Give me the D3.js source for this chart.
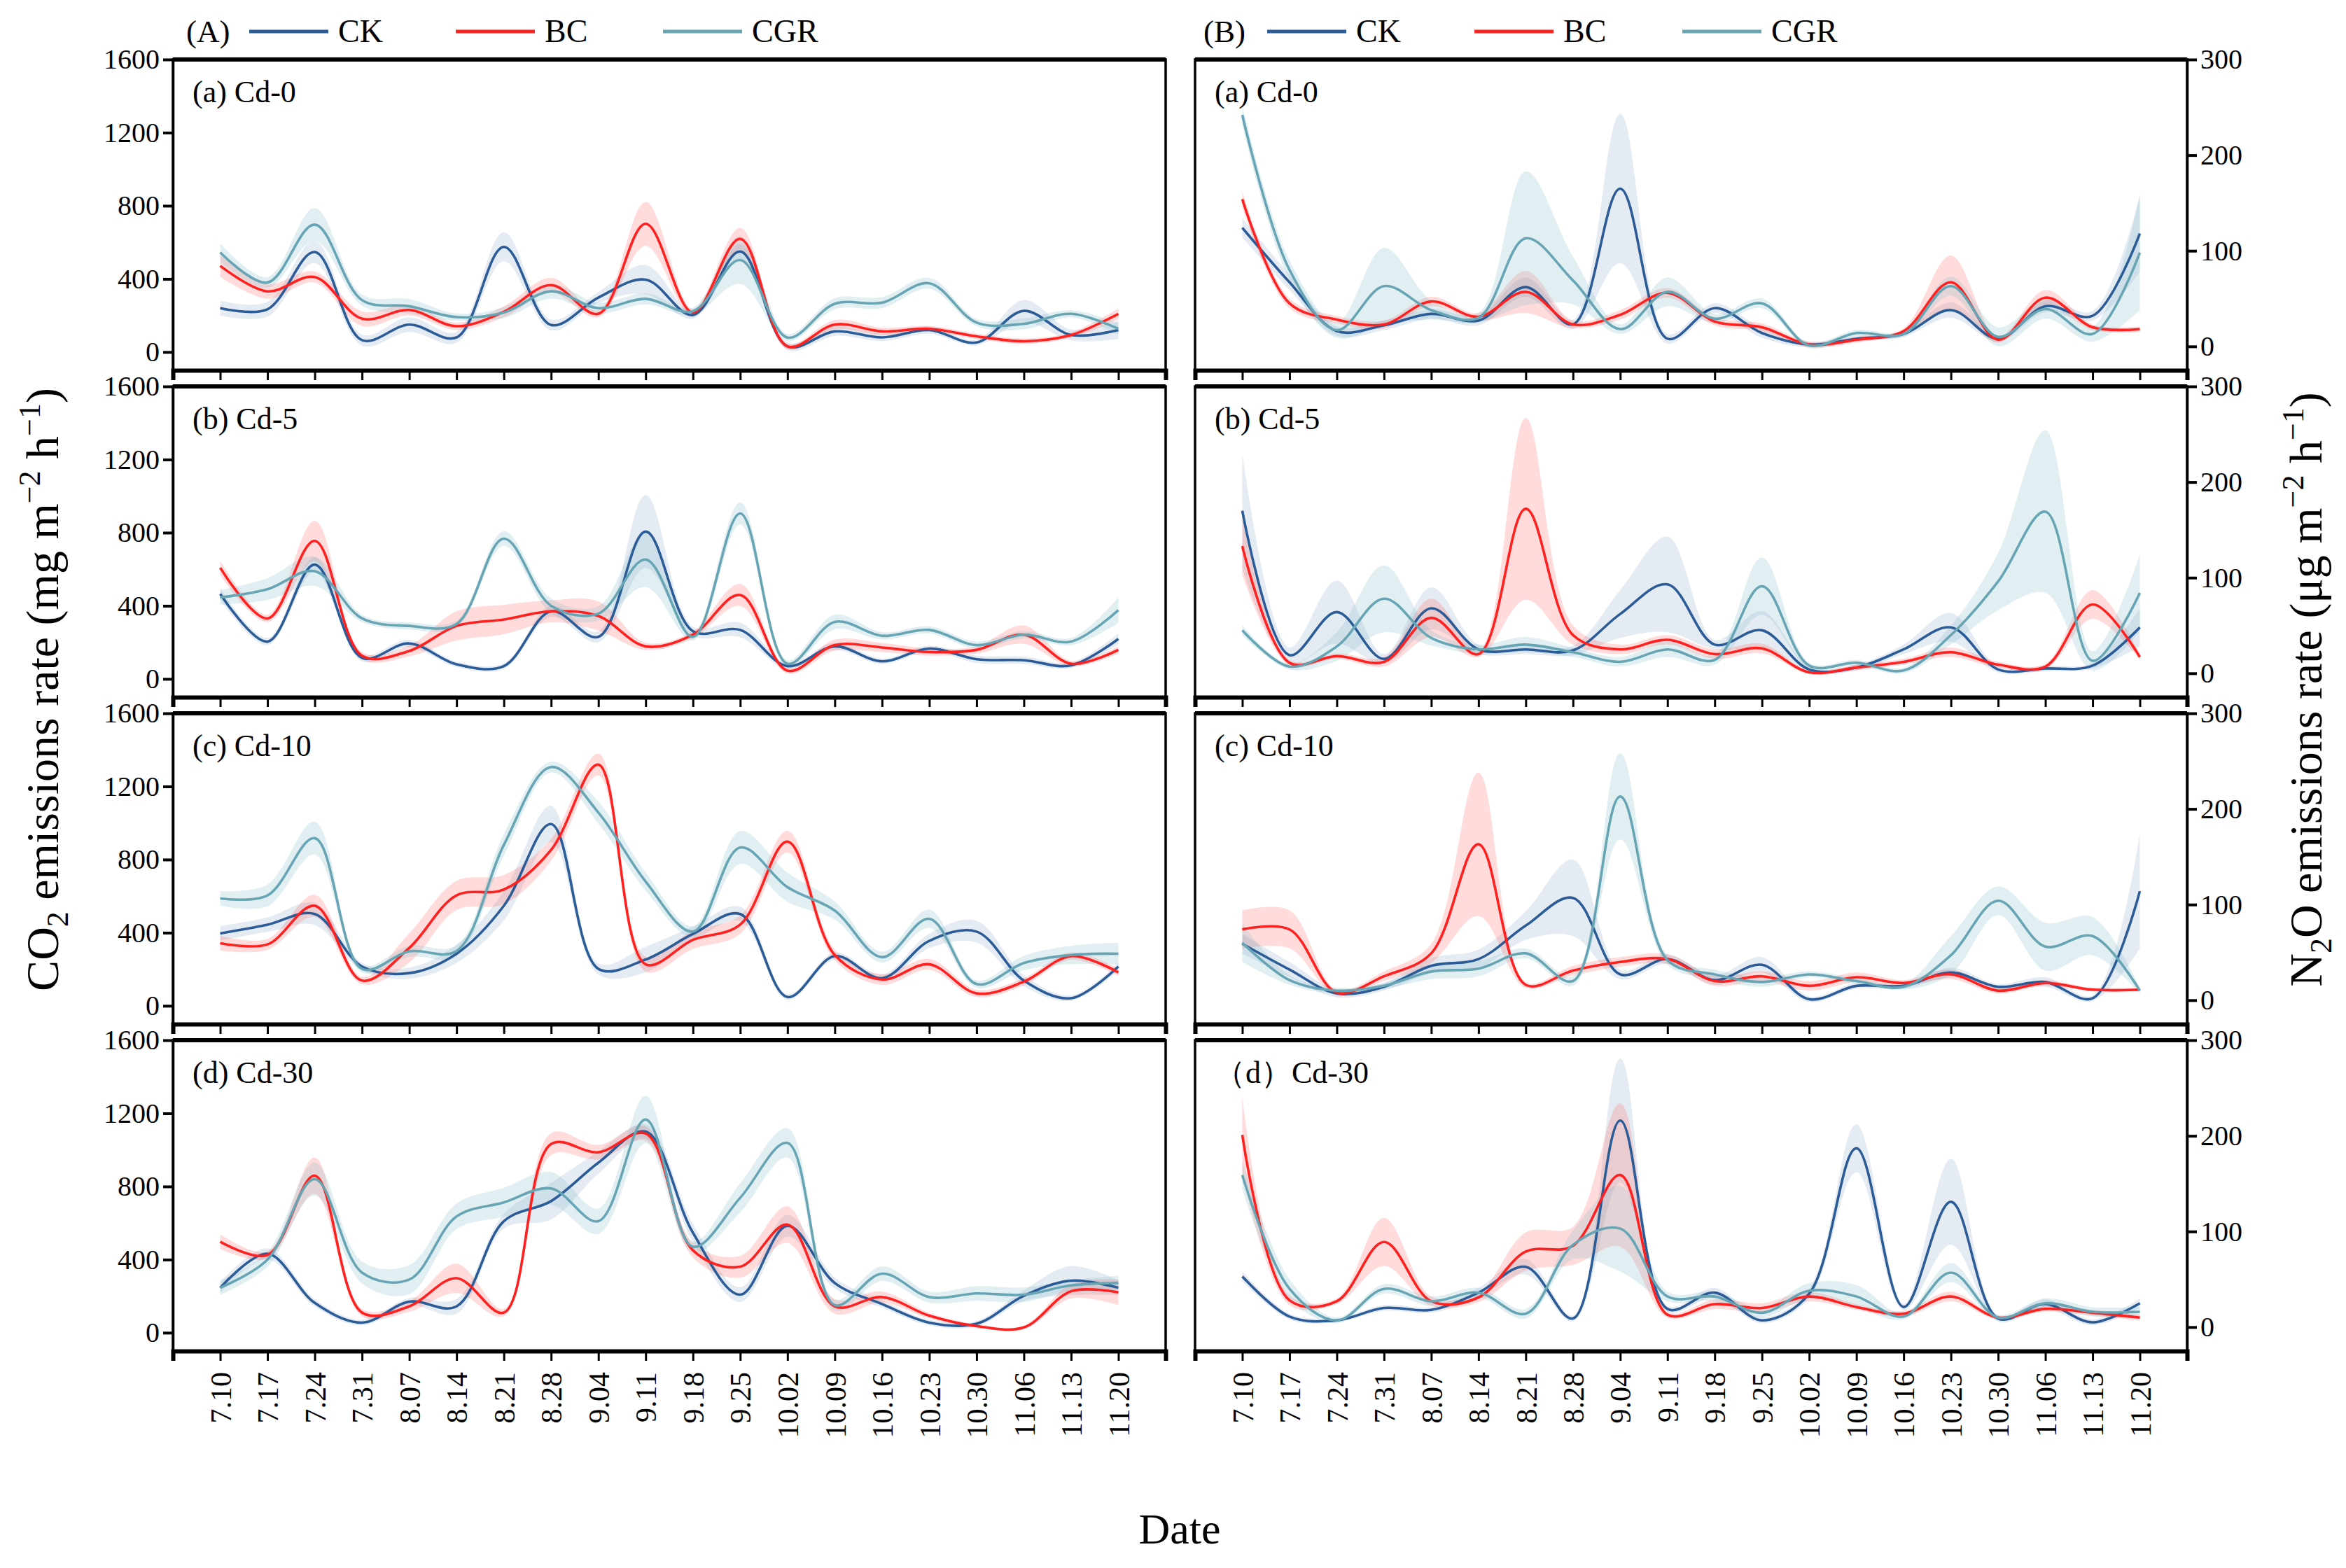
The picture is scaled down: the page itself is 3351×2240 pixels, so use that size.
<!DOCTYPE html>
<html>
<head>
<meta charset="utf-8">
<script src="https://cdn.jsdelivr.net/npm/d3@7"></script>
<style>
body { margin: 0; background: #fff; }
text { font-family: "Liberation Serif", "Times New Roman", serif; fill: #000; }
</style>
</head>
<body>
<svg id="chart" width="3351" height="2240"></svg>
<script>
// sampling dates (weekly)
var dates = ["7.10","7.17","7.24","7.31","8.07","8.14","8.21","8.28","9.04","9.11",
             "9.18","9.25","10.02","10.09","10.16","10.23","10.30","11.06","11.13","11.20"];
var seriesNames = ["CK", "BC", "CGR"];
var panelLabelsA = ["(a) Cd-0", "(b) Cd-5", "(c) Cd-10", "(d) Cd-30"];
var panelLabelsB = ["(a) Cd-0", "(b) Cd-5", "(c) Cd-10", "\uff08d\uff09Cd-30"];
var co2Ticks = [0, 400, 800, 1200, 1600];
var n2oTicks = [0, 100, 200, 300];

// CO2 emissions rate (mg m-2 h-1), mean and half band width
var co2Cd0CK   = [240,234,547,65,150,80,575,148,298,396,202,550,31,113,80,120,52,225,93,120];
var co2Cd0CKsd = [40,40,60,30,40,30,80,30,30,80,20,40,20,25,20,20,15,60,30,50];
var co2Cd0BC   = [471,332,410,182,230,141,220,366,209,701,216,619,31,150,113,127,86,59,93,209];
var co2Cd0BCsd = [60,40,30,40,30,20,30,40,20,120,20,60,15,25,20,15,15,15,15,30];
var co2Cd0CGR   = [544,380,697,284,250,191,216,332,240,291,223,503,79,264,270,376,161,154,209,127];
var co2Cd0CGRsd = [50,30,90,30,40,20,30,40,30,30,20,130,20,30,30,30,20,30,20,30];

var co2Cd5CK   = [465,204,625,115,194,80,70,370,230,806,261,268,70,178,96,166,108,102,74,219];
var co2Cd5CKsd = [30,20,40,20,20,15,15,30,30,200,25,40,15,20,15,15,20,20,15,30];
var co2Cd5BC   = [608,331,755,127,153,290,325,370,344,178,242,459,45,185,172,147,159,242,83,159];
var co2Cd5BCsd = [40,20,110,20,30,80,80,60,80,20,20,60,15,30,25,20,20,50,15,20];
var co2Cd5CGR   = [446,491,589,331,290,300,767,400,357,653,230,905,83,312,236,268,185,242,204,376];
var co2Cd5CGRsd = [40,60,80,20,20,20,40,40,40,150,20,60,20,40,20,20,20,20,20,70];

var co2Cd10CK   = [396,444,502,215,179,285,547,994,202,253,393,502,48,272,151,355,406,138,42,215];
var co2Cd10CKsd = [40,40,60,20,30,50,80,100,30,70,40,40,15,20,20,40,60,30,15,20];
var co2Cd10BC   = [342,336,547,138,317,604,636,853,1319,227,361,444,898,278,144,227,68,132,272,183];
var co2Cd10BCsd = [40,30,60,20,80,80,80,60,60,40,50,50,60,30,30,30,20,20,20,20];
var co2Cd10CGR   = [587,604,917,202,298,300,880,1306,1057,680,406,866,649,521,266,476,119,234,278,285];
var co2Cd10CGRsd = [40,60,90,20,30,30,60,30,60,50,30,90,80,50,30,50,20,40,50,60];

var co2Cd30CK   = [246,432,163,55,170,144,610,720,930,1100,547,208,585,272,157,55,49,202,285,246];
var co2Cd30CKsd = [30,30,20,15,20,40,40,100,60,40,50,40,60,30,20,15,15,30,80,40];
var co2Cd30BC   = [498,425,859,110,144,298,110,1032,987,1089,451,361,591,144,195,93,36,29,227,221];
var co2Cd30BCsd = [40,20,100,20,30,80,20,60,40,40,40,60,100,40,30,15,10,10,40,70];
var co2Cd30CGR   = [246,400,840,329,291,636,713,789,610,1166,470,738,1038,151,323,195,215,208,259,272];
var co2Cd30CGRsd = [40,40,90,60,80,70,80,90,70,130,30,80,80,30,40,30,40,40,30,40];

// N2O emissions rate (ug m-2 h-1)
var n2oCd0CK   = [124,67,16,22,34,27,62,23,165,8,40,14,2,8,13,38,8,42,32,118];
var n2oCd0CKsd = [10,8,5,5,5,5,10,5,78,5,5,5,3,3,3,8,3,6,5,40];
var n2oCd0BC   = [154,45,28,23,47,31,57,23,33,56,26,20,2,7,16,67,7,51,20,18];
var n2oCd0BCsd = [8,5,4,4,5,4,22,4,5,5,4,4,3,3,3,28,3,8,3,3];
var n2oCd0CGR   = [242,80,17,63,38,30,113,69,18,57,29,45,1,14,13,63,10,39,13,98];
var n2oCd0CGRsd = [10,10,8,40,10,5,70,25,5,15,5,5,3,3,3,10,10,10,8,60];

var n2oCd5CK   = [170,19,64,15,68,25,25,24,62,93,30,45,4,6,25,48,4,5,8,48];
var n2oCd5CKsd = [60,8,33,5,22,5,5,5,25,50,5,20,3,3,5,15,3,3,3,20];
var n2oCd5BC   = [133,11,18,12,58,20,172,40,25,35,20,26,1,6,12,22,9,7,72,17];
var n2oCd5BCsd = [30,3,3,5,20,3,95,10,5,5,5,5,2,3,3,5,3,3,15,3];
var n2oCd5CGR   = [45,7,28,78,37,25,30,22,12,25,14,91,8,11,3,40,96,169,13,84];
var n2oCd5CGRsd = [5,3,15,35,8,5,8,5,5,8,5,30,3,3,3,10,30,85,10,40];

var n2oCd10CK   = [59,32,7,14,36,43,78,107,27,43,21,37,1,15,15,29,14,19,2,114];
var n2oCd10CKsd = [10,8,4,4,8,10,15,40,5,5,5,8,3,3,3,5,3,5,3,60];
var n2oCd10BC   = [74,74,8,25,49,163,16,31,40,43,20,25,15,24,18,27,10,18,11,11];
var n2oCd10BCsd = [20,20,3,5,10,75,3,5,5,5,5,5,5,5,3,5,3,3,2,2];
var n2oCd10CGR   = [60,21,10,15,30,33,49,20,213,42,27,19,27,20,14,47,104,56,67,10];
var n2oCd10CGRsd = [20,5,3,3,8,8,5,5,45,5,5,5,3,3,3,20,15,25,20,3];

var n2oCd30CK   = [53,11,7,20,18,36,63,9,216,19,36,7,35,187,21,131,9,24,5,25];
var n2oCd30CKsd = [5,3,2,3,3,5,8,3,65,3,5,3,5,25,3,45,3,5,3,5];
var n2oCd30BC   = [201,28,27,89,27,31,79,85,159,13,24,20,32,21,14,32,10,19,15,10];
var n2oCd30BCsd = [40,5,3,25,5,5,20,20,75,3,5,5,5,3,3,5,2,3,3,3];
var n2oCd30CGR   = [159,40,7,40,27,36,14,86,103,32,32,15,38,32,11,57,10,25,16,16];
var n2oCd30CGRsd = [15,10,3,5,5,5,5,15,45,5,5,5,8,12,3,10,3,5,5,5];

var lineColors = ["#2b5c97", "#ff2020", "#67a5b5"];
var bandColors = ["#2b5c97", "#ff4a4a", "#7ab6c6"];
var bandOpacity = [0.12, 0.2, 0.22];
var serif = '"Liberation Serif", "Times New Roman", serif';

var co2Panels = [
	[[co2Cd0CK, co2Cd0CKsd], [co2Cd0BC, co2Cd0BCsd], [co2Cd0CGR, co2Cd0CGRsd]],
	[[co2Cd5CK, co2Cd5CKsd], [co2Cd5BC, co2Cd5BCsd], [co2Cd5CGR, co2Cd5CGRsd]],
	[[co2Cd10CK, co2Cd10CKsd], [co2Cd10BC, co2Cd10BCsd], [co2Cd10CGR, co2Cd10CGRsd]],
	[[co2Cd30CK, co2Cd30CKsd], [co2Cd30BC, co2Cd30BCsd], [co2Cd30CGR, co2Cd30CGRsd]]
];
var n2oPanels = [
	[[n2oCd0CK, n2oCd0CKsd], [n2oCd0BC, n2oCd0BCsd], [n2oCd0CGR, n2oCd0CGRsd]],
	[[n2oCd5CK, n2oCd5CKsd], [n2oCd5BC, n2oCd5BCsd], [n2oCd5CGR, n2oCd5CGRsd]],
	[[n2oCd10CK, n2oCd10CKsd], [n2oCd10BC, n2oCd10BCsd], [n2oCd10CGR, n2oCd10CGRsd]],
	[[n2oCd30CK, n2oCd30CKsd], [n2oCd30BC, n2oCd30BCsd], [n2oCd30CGR, n2oCd30CGRsd]]
];

var svg = d3.select('#chart');
svg.append('rect').attr('width', 3351).attr('height', 2240).attr('fill', '#fff');

var rowTop = [85, 552, 1019, 1486];
var rowH = 444;
var columns = [
	{ x0: 247, x1: 1665, side: 'left', domain: [-100, 1600], ticks: co2Ticks, panels: co2Panels, labels: panelLabelsA, tag: '(A)' },
	{ x0: 1707, x1: 3124, side: 'right', domain: [-25, 300], ticks: n2oTicks, panels: n2oPanels, labels: panelLabelsB, tag: '(B)' }
];

var curve = d3.curveCatmullRom.alpha(0.5);
var clipId = 0;

function drawPanel(col, row){
	var top = rowTop[row], bottom = top + rowH;
	var x = d3.scalePoint().domain(dates).range([col.x0, col.x1]).padding(1);
	var y = d3.scaleLinear().domain(col.domain).range([bottom, top]);
	var g = svg.append('g');

	var id = 'clip' + (clipId++);
	g.append('clipPath').attr('id', id)
		.append('rect').attr('x', col.x0).attr('y', top).attr('width', col.x1 - col.x0).attr('height', rowH);
	var plot = g.append('g').attr('clip-path', 'url(#' + id + ')');

	var panel = col.panels[row];
	panel.forEach(function(s, i){
		var pts = dates.map(function(d, j){ return { d: d, m: s[0][j], e: s[1][j] }; });
		var area = d3.area().curve(curve)
			.x(function(p){ return x(p.d); })
			.y0(function(p){ return y(p.m - p.e); })
			.y1(function(p){ return y(p.m + p.e); });
		plot.append('path').datum(pts).attr('d', area)
			.attr('fill', bandColors[i]).attr('fill-opacity', bandOpacity[i]);
	});
	panel.forEach(function(s, i){
		var pts = dates.map(function(d, j){ return { d: d, m: s[0][j] }; });
		var line = d3.line().curve(curve)
			.x(function(p){ return x(p.d); })
			.y(function(p){ return y(p.m); });
		plot.append('path').datum(pts).attr('d', line)
			.attr('fill', 'none').attr('stroke', lineColors[i]).attr('stroke-width', 3.6);
	});

	// frame
	g.append('rect').attr('x', col.x0).attr('y', top).attr('width', col.x1 - col.x0).attr('height', rowH)
		.attr('fill', 'none').attr('stroke', '#000').attr('stroke-width', 3.5);
	g.append('line').attr('x1', col.x0).attr('x2', col.x1).attr('y1', top).attr('y2', top)
		.attr('stroke', '#000').attr('stroke-width', 6);

	// x axis
	var xAxis = d3.axisBottom(x).tickSize(14).tickSizeOuter(14);
	if (row < 3) xAxis.tickFormat('');
	var xa = g.append('g').attr('transform', 'translate(0,' + bottom + ')').call(xAxis)
		.attr('font-family', serif).attr('font-size', 42);
	xa.select('.domain').attr('stroke-width', 6);
	xa.selectAll('.tick line').attr('stroke-width', 3);
	if (row === 3) {
		xa.selectAll('.tick text')
			.attr('transform', 'rotate(-90)')
			.attr('x', -30).attr('y', 0).attr('dy', '0.35em')
			.style('text-anchor', 'end');
	}

	// y axis
	var yAxis = (col.side === 'left' ? d3.axisLeft(y) : d3.axisRight(y))
		.tickValues(col.ticks).tickFormat(d3.format('d'))
		.tickSize(14).tickSizeOuter(0).tickPadding(5);
	var ya = g.append('g')
		.attr('transform', 'translate(' + (col.side === 'left' ? col.x0 : col.x1) + ',0)')
		.call(yAxis)
		.attr('font-family', serif).attr('font-size', 40);
	ya.select('.domain').attr('stroke-width', 3.5);
	ya.selectAll('.tick line').attr('stroke-width', 4);

	g.append('text').attr('x', col.x0 + 28).attr('y', top + 61)
		.attr('font-size', 44).text(col.labels[row]);
}

columns.forEach(function(col){
	for (var r = 0; r < 4; r++) drawPanel(col, r);
});

// legends
var legendPos = [
	{ tag: 266, items: [356, 651, 947] },
	{ tag: 1719, items: [1810, 2106, 2403] }
];
legendPos.forEach(function(lp, c){
	var lg = svg.append('g');
	lg.append('text').attr('x', lp.tag).attr('y', 60).attr('font-size', 45).text(columns[c].tag);
	seriesNames.forEach(function(name, i){
		var lx = lp.items[i];
		lg.append('line').attr('x1', lx).attr('x2', lx + 113).attr('y1', 45).attr('y2', 45)
			.attr('stroke', lineColors[i]).attr('stroke-width', 5);
		lg.append('text').attr('x', lx + 127).attr('y', 60).attr('font-size', 46).text(name);
	});
});

// axis titles
function axisTitle(xPos, parts){
	var t = svg.append('text')
		.attr('transform', 'translate(' + xPos + ',985) rotate(-90)')
		.attr('text-anchor', 'middle').attr('font-size', 66);
	parts.forEach(function(p){
		var ts = t.append('tspan').text(p[0]);
		if (p[1] === 'sub') ts.attr('dy', 14).attr('font-size', 44);
		else if (p[1] === 'sup') ts.attr('dy', -26).attr('font-size', 44);
		else if (p[1] === 'back-sub') ts.attr('dy', -14);
		else if (p[1] === 'back-sup') ts.attr('dy', 26);
	});
}
axisTitle(83, [["CO"], ["2", "sub"], [" emissions rate (mg m", "back-sub"], ["\u22122", "sup"], [" h", "back-sup"], ["\u22121", "sup"], [")", "back-sup"]]);
axisTitle(3316, [["N"], ["2", "sub"], ["O emissions rate (\u03bcg m", "back-sub"], ["\u22122", "sup"], [" h", "back-sup"], ["\u22121", "sup"], [")", "back-sup"]]);

svg.append('text').attr('x', 1685).attr('y', 2205).attr('text-anchor', 'middle')
	.attr('font-size', 62).text('Date');
</script>
</body>
</html>
